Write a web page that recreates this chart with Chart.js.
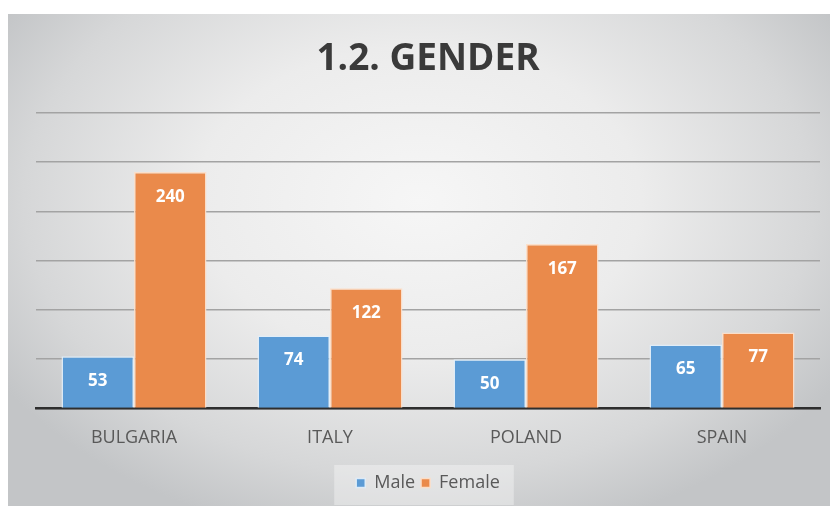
<!DOCTYPE html>
<html>
<head>
<meta charset="utf-8">
<script src="https://cdn.jsdelivr.net/npm/chart.js@4.4.1/dist/chart.umd.min.js"></script>
<style>
  html, body { margin: 0; padding: 0; background: #ffffff; }
  #wrap { position: absolute; left: 0; top: 0; width: 830px; height: 506px; }
  #panel { position: absolute; left: 8px; top: 14px; width: 822px; height: 492px;
    background: radial-gradient(ellipse 60% 70% at 50% 38%, #f6f6f6 0%, #ececec 45%, #d6d7d8 80%, #c3c5c7 100%); }
  canvas { position: absolute; left: 0; top: 0; }
</style>
</head>
<body>
<div id="wrap">
  <div id="panel"></div>
  <canvas id="c" width="830" height="506"></canvas>
</div>
<script>
const categories = ["BULGARIA", "ITALY", "POLAND", "SPAIN"];
const maleValues = [53, 74, 50, 65];
const femaleValues = [240, 122, 167, 77];
const seriesNames = ["Male", "Female"];
const titleText = "1.2. GENDER";

const FONT = "'Open Sans', 'Liberation Sans', sans-serif";

const valueLabels = {
  id: 'valueLabels',
  afterDatasetsDraw(chart) {
    const ctx = chart.ctx;
    ctx.save();
    ctx.fillStyle = '#ffffff';
    ctx.font = 'bold 17px ' + FONT;
    ctx.textAlign = 'center';
    ctx.textBaseline = 'middle';
    chart.data.datasets.forEach((ds, i) => {
      chart.getDatasetMeta(i).data.forEach((bar, j) => {
        ctx.fillText(String(ds.data[j]), bar.x, bar.y + 25);
      });
    });
    ctx.restore();
  }
};

const legendBg = {
  id: 'legendBg',
  beforeDraw(chart) {
    const lg = chart.legend;
    if (!lg || !lg.legendHitBoxes || !lg.legendHitBoxes.length) return;
    const boxes = lg.legendHitBoxes;
    const l = boxes[0].left - 22;
    const r = boxes[boxes.length - 1].left + boxes[boxes.length - 1].width + 14;
    const t = lg.top - 3;
    const b = lg.bottom + 3;
    const ctx = chart.ctx;
    ctx.save();
    ctx.fillStyle = 'rgba(255,255,255,0.35)';
    ctx.fillRect(l, t, r - l, b - t);
    ctx.restore();
  }
};

new Chart(document.getElementById('c'), {
  type: 'bar',
  data: {
    labels: categories,
    datasets: [
      { label: seriesNames[0], data: maleValues, backgroundColor: '#5b9bd5',
        borderColor: 'rgba(225,238,250,0.9)', borderWidth: 1.5,
        categoryPercentage: 0.74, barPercentage: 1.0 },
      { label: seriesNames[1], data: femaleValues, backgroundColor: '#ea8a4b',
        borderColor: 'rgba(252,222,200,0.95)', borderWidth: 1.5,
        categoryPercentage: 0.74, barPercentage: 1.0 }
    ]
  },
  options: {
    responsive: false,
    animation: false,
    devicePixelRatio: 1,
    layout: { padding: { left: 36, right: 10, top: 0, bottom: 4 } },
    plugins: {
      title: {
        display: true, text: titleText, color: '#3a3a3a',
        font: { family: FONT, size: 37, weight: 'bold' },
        padding: { top: 37, bottom: 31.6 }
      },
      legend: {
        display: true, position: 'bottom',
        labels: { color: '#595959', font: { family: FONT, size: 18 },
          boxWidth: 9, boxHeight: 9, padding: 6 }
      },
      tooltip: { enabled: false }
    },
    scales: {
      x: {
        grid: { display: false, drawTicks: false },
        border: { display: true, color: '#2e2e2e', width: 2.5 },
        ticks: { color: '#595959', font: { family: FONT, size: 18 }, padding: 19 }
      },
      y: {
        min: 0, max: 300,
        afterFit(s) { s.width = 0; },
        grid: { color: '#a3a3a3', lineWidth: 1.5, drawTicks: false },
        border: { display: false },
        ticks: { display: false, stepSize: 50 }
      }
    }
  },
  plugins: [legendBg, valueLabels]
});
</script>
</body>
</html>
